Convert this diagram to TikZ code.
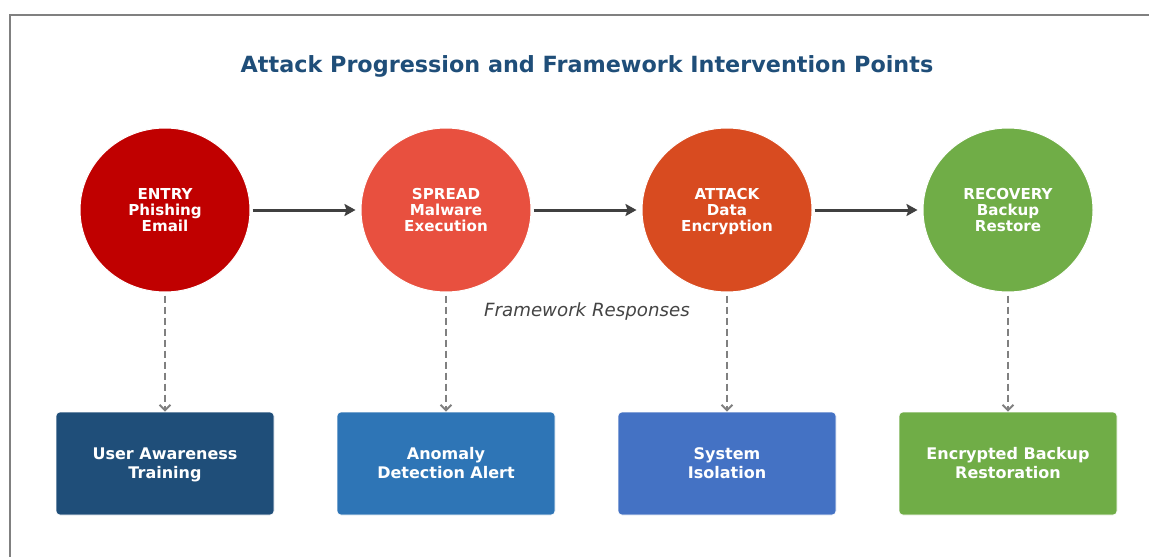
\documentclass[tikz,border=0pt]{standalone}
\usepackage{fontspec}
\setmainfont{DejaVu Sans}
\usetikzlibrary{arrows.meta,shapes.geometric}

\definecolor{titleblue}{HTML}{1F4E79}
\definecolor{framegray}{HTML}{808080}
\definecolor{arrowgray}{HTML}{404040}
\definecolor{dashgray}{HTML}{808080}
\definecolor{noteGray}{HTML}{444444}
\definecolor{cEntry}{HTML}{C00000}
\definecolor{cSpread}{HTML}{E8503F}
\definecolor{cAttack}{HTML}{D84B20}
\definecolor{cRecovery}{HTML}{70AD47}
\definecolor{bTrain}{HTML}{1F4E79}
\definecolor{bDetect}{HTML}{2E75B6}
\definecolor{bIsolate}{HTML}{4472C4}
\definecolor{bRestore}{HTML}{70AD47}

\tikzset{
  stage/.style={ellipse, minimum width=170pt, minimum height=164pt, inner sep=0pt,
    draw=white, line width=1pt, text=white, align=center,
    text height=43pt, text depth=0pt,
    font=\fontsize{15.1}{16}\selectfont\bfseries},
  response/.style={rectangle, rounded corners=4pt, minimum width=218pt, minimum height=103pt,
    inner sep=0pt, draw=white, line width=0.6pt, text=white, align=center,
    text height=30.6pt, text depth=0pt,
    font=\fontsize{16}{19}\selectfont\bfseries},
  flow/.style={draw=arrowgray, line width=3pt, shorten <=2pt, shorten >=5pt,
    -{Stealth[length=11pt,width=12pt,inset=2pt]}},
  respond/.style={draw=dashgray, line width=2.6pt, dash pattern=on 7.5pt off 3.5pt,
    shorten <=3pt, -{Straight Barb[length=5.5pt,width=11pt,line width=2pt]}}
}

\begin{document}
\begin{tikzpicture}[x=1pt,y=-1pt]
\useasboundingbox (0,0) rectangle (1149,557);
\fill[white] (0,0) rectangle (1149,557);
\draw[framegray, line width=2pt] (1149,15) -- (9.5,15) -- (9.5,557);

\node[text=titleblue, font=\fontsize{22.3}{26}\selectfont\bfseries] (title) at (587,66)
  {Attack Progression and Framework Intervention Points};

% attack stages
\node[stage, fill=cEntry]    (s1) at (165,210)  {ENTRY\\Phishing\\Email};
\node[stage, fill=cSpread]   (s2) at (446,210)  {SPREAD\\Malware\\Execution};
\node[stage, fill=cAttack]   (s3) at (727,210)  {ATTACK\\Data\\Encryption};
\node[stage, fill=cRecovery] (s4) at (1008,210) {RECOVERY\\Backup\\Restore};

% framework responses
\node[response, fill=bTrain]   (r1) at (165,463.5)  {User Awareness\\Training};
\node[response, fill=bDetect]  (r2) at (446,463.5)  {Anomaly\\Detection Alert};
\node[response, fill=bIsolate] (r3) at (727,463.5)  {System\\Isolation};
\node[response, fill=bRestore] (r4) at (1008,463.5) {Encrypted Backup\\Restoration};

\node[text=noteGray, font=\fontsize{18.2}{22}\selectfont\itshape] (note) at (587,311)
  {Framework Responses};

% progression
\draw[flow] (s1) -- (s2);
\draw[flow] (s2) -- (s3);
\draw[flow] (s3) -- (s4);

% interventions
\draw[respond] (s1.south) -- (r1.north);
\draw[respond] (s2.south) -- (r2.north);
\draw[respond] (s3.south) -- (r3.north);
\draw[respond] (s4.south) -- (r4.north);
\end{tikzpicture}
\end{document}
